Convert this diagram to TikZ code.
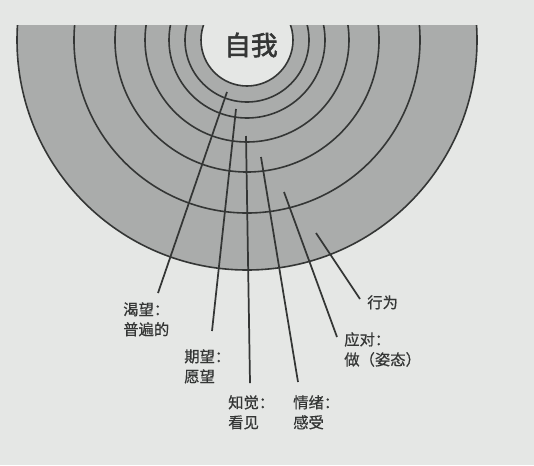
\documentclass[tikz,border=0pt]{standalone}
\usepackage{fontspec}
\newfontfamily\cjk[FakeBold=0.6]{Noto Sans CJK SC}
\newfontfamily\cjkbold[FakeBold=2]{Noto Sans CJK SC}
\definecolor{paper}{RGB}{229,231,229}
\definecolor{ring}{RGB}{170,172,171}
\definecolor{ink}{RGB}{52,54,53}
\begin{document}
\begin{tikzpicture}[x=0.75pt,y=-0.75pt,
  arcline/.style={draw=ink, line width=1.2pt},
  pointer/.style={draw=ink, line width=1.3pt},
  lbl/.style={font=\cjk\fontsize{11.5}{15}\selectfont, text=ink, align=left, anchor=north west, inner sep=0pt}]
\fill[paper] (0,0) rectangle (534,465);
\useasboundingbox (0,0) rectangle (534,465);
\coordinate (c) at (247,40);
\begin{scope}
  \clip (0,25) rectangle (534,465);
  \fill[ring] (c) circle[radius=230];
  \foreach \r in {230,173,132,102,78,62} \draw[arcline] (c) circle[radius=\r];
  \filldraw[fill=paper, draw=ink, line width=1.2pt] (c) circle[radius=46];
\end{scope}
\node[font=\cjkbold\fontsize{20}{20}\selectfont, text=ink, inner sep=0pt] (self) at (251,45) {自我};
% pointer start points (inside rings) and ends
\coordinate (s1) at (227,92);  \coordinate (e1) at (158,293);
\coordinate (s2) at (236,109); \coordinate (e2) at (212,331);
\coordinate (s3) at (246,136); \coordinate (e3) at (250,383);
\coordinate (s4) at (261,157); \coordinate (e4) at (298,382);
\coordinate (s5) at (284,192); \coordinate (e5) at (337,337);
\coordinate (s6) at (316,233); \coordinate (e6) at (360,299);
\foreach \i in {1,...,6} \draw[pointer] (s\i) -- (e\i);
\node[lbl] (l1) at (123,302) {渴望：\\普遍的};
\node[lbl] (l2) at (184,349) {期望：\\愿望};
\node[lbl] (l3) at (228,395) {知觉：\\看见};
\node[lbl] (l4) at (293,395) {情绪：\\感受};
\node[lbl] (l5) at (344,332) {应对：\\做（姿态）};
\node[lbl] (l6) at (367,295) {行为};
\end{tikzpicture}
\end{document}
